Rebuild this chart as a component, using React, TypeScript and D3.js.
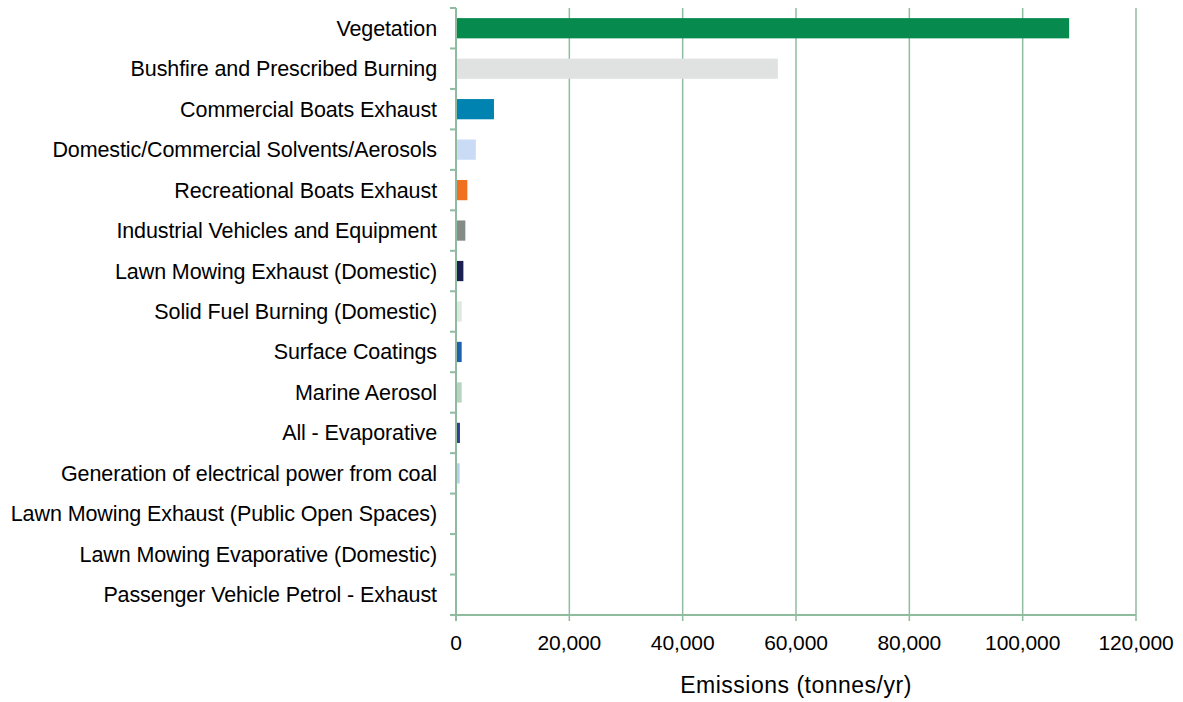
import React from 'react';
import * as d3 from 'd3';

const categories = [
  'Vegetation',
  'Bushfire and Prescribed Burning',
  'Commercial Boats Exhaust',
  'Domestic/Commercial Solvents/Aerosols',
  'Recreational Boats Exhaust',
  'Industrial Vehicles and Equipment',
  'Lawn Mowing Exhaust (Domestic)',
  'Solid Fuel Burning (Domestic)',
  'Surface Coatings',
  'Marine Aerosol',
  'All - Evaporative',
  'Generation of electrical power from coal',
  'Lawn Mowing Exhaust (Public Open Spaces)',
  'Lawn Mowing Evaporative (Domestic)',
  'Passenger Vehicle Petrol - Exhaust',
];

const emissions = [108200, 56800, 6700, 3500, 2000, 1650, 1300, 1000, 1000, 1000, 700, 650, 80, 60, 40];

const barColors = [
  '#078a4e', '#e0e2e1', '#0083b0', '#c9dbf5', '#f07020', '#848c88', '#1a2050',
  '#dde8e0', '#2060b0', '#b8d4c0', '#304090', '#b8d0f0', '#cfe0d4', '#d8e4dc', '#d0dcf0',
];

const xTicks = [0, 20000, 40000, 60000, 80000, 100000, 120000];

const W = 1183;
const H = 702;
const left = 456;
const right = 1136;
const top = 8;
const bottom = 615;
const grid = '#8fbc9f';
const font = '"Liberation Sans", Arial, sans-serif';

export default function App() {
  const x = d3.scaleLinear().domain([0, 120000]).range([left, right]);
  const y = d3.scaleBand<string>().domain(categories).range([top, bottom]).paddingInner(0.5).paddingOuter(0.25);
  const step = y.step();
  const fmt = d3.format(',');

  return (
    <svg width={W} height={H} style={{ position: 'absolute', left: 0, top: 0, fontFamily: font }}>
      {xTicks.slice(1).map(t => (
        <line key={t} x1={x(t)} x2={x(t)} y1={top} y2={bottom} stroke={grid} strokeWidth={1.5} />
      ))}
      {categories.map((c, i) => (
        <rect key={c} x={x(0)} y={y(c)!} width={Math.max(x(emissions[i]) - x(0), 0.5)} height={y.bandwidth()} fill={barColors[i]} />
      ))}
      {/* y axis */}
      <line x1={left} x2={left} y1={top} y2={bottom + 6} stroke={grid} strokeWidth={2} />
      {d3.range(categories.length + 1).map(i => (
        <line key={i} x1={left - 6} x2={left} y1={top + i * step} y2={top + i * step} stroke={grid} strokeWidth={2} />
      ))}
      {/* x axis */}
      <line x1={left - 6} x2={right} y1={bottom} y2={bottom} stroke={grid} strokeWidth={2} />
      {xTicks.map(t => (
        <line key={t} x1={x(t)} x2={x(t)} y1={bottom} y2={bottom + 6} stroke={grid} strokeWidth={1.5} />
      ))}
      {categories.map(c => (
        <text key={c} x={437} y={y(c)! + y.bandwidth() / 2} dy="0.35em" textAnchor="end" fontSize={21.5} letterSpacing={-0.1} fill="#000">
          {c}
        </text>
      ))}
      {xTicks.map(t => (
        <text key={t} x={x(t)} y={650} textAnchor="middle" fontSize={21} letterSpacing={-0.1} fill="#000">
          {fmt(t)}
        </text>
      ))}
      <text x={796} y={693} textAnchor="middle" fontSize={23} letterSpacing={0.5} fill="#000">
        Emissions (tonnes/yr)
      </text>
    </svg>
  );
}
